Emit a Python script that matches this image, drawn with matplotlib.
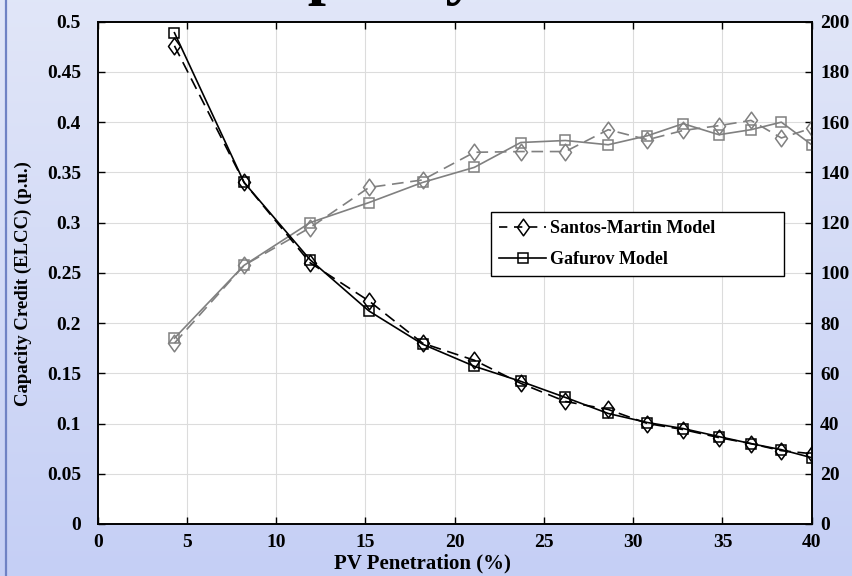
import numpy as np
import matplotlib
matplotlib.use("Agg")
import matplotlib.pyplot as plt
from matplotlib.path import Path
from matplotlib.lines import Line2D

# ---------------- data ----------------
pv_penetration = [4.3, 8.2, 11.9, 15.2, 18.2, 21.1, 23.7, 26.2, 28.6, 30.8, 32.8, 34.8, 36.6, 38.3, 40.0]

# capacity credit (left axis, p.u.)
cc_santos = [0.476, 0.340, 0.260, 0.222, 0.180, 0.163, 0.140, 0.122, 0.114, 0.100, 0.094, 0.086, 0.080, 0.073, 0.070]
cc_gafurov = [0.489, 0.340, 0.263, 0.212, 0.179, 0.157, 0.142, 0.126, 0.110, 0.101, 0.095, 0.087, 0.080, 0.074, 0.066]

# right-axis series (gray)
r_santos = [72, 103, 118, 134, 137, 148, 148.3, 148.3, 157, 153, 156.7, 158.6, 160.7, 153.7, 157.6]
r_gafurov = [74, 103, 120, 128, 136, 142, 151.9, 152.7, 151, 154.6, 159.4, 155, 157, 160, 151]

x_ticks = [0, 5, 10, 15, 20, 25, 30, 35, 40]
y_left_ticks = [0, 0.05, 0.1, 0.15, 0.2, 0.25, 0.3, 0.35, 0.4, 0.45, 0.5]
y_left_labels = ["0", "0.05", "0.1", "0.15", "0.2", "0.25", "0.3", "0.35", "0.4", "0.45", "0.5"]
y_right_ticks = [0, 20, 40, 60, 80, 100, 120, 140, 160, 180, 200]

legend_labels = ["Santos-Martin Model", "Gafurov Model"]
x_label = "PV Penetration (%)"
y_label = "Capacity Credit (ELCC) (p.u.)"
title_text = "Capacity Credit"

# ---------------- style ----------------
W, H = 852, 576
DPI = 100
serif = ["Liberation Serif", "DejaVu Serif"]
plt.rcParams["font.family"] = serif
plt.rcParams["font.weight"] = "bold"

fig = plt.figure(figsize=(W / DPI, H / DPI), dpi=DPI)

# gradient background
bg = fig.add_axes([0, 0, 1, 1], zorder=-10)
top_c = np.array([0.882, 0.902, 0.973])
bot_c = np.array([0.773, 0.812, 0.961])
t = np.linspace(0, 1, 256)[:, None]
grad = top_c[None, :] * (1 - t) + bot_c[None, :] * t
grad = np.repeat(grad[:, None, :], 2, axis=1)
bg.imshow(grad, aspect="auto", extent=[0, 1, 0, 1], origin="upper")
bg.set_xlim(0, 1)
bg.set_ylim(0, 1)
bg.axis("off")
bg.add_line(Line2D([5.5 / W, 5.5 / W], [0, 1], color="#6f82c4", lw=1.6, transform=bg.transAxes))

# partially cut-off title (only descenders visible, as in the reference)
fig.text(228 / W, 1 + 7.5 / H, title_text, fontsize=47, fontweight="bold",
         ha="left", va="baseline", color="black", family=serif)

x0, x1 = 97.7, 811.7
y_top, y_bot = 21.7, 524.0
ax = fig.add_axes([x0 / W, 1 - y_bot / H, (x1 - x0) / W, (y_bot - y_top) / H])
ax.set_facecolor("white")
ax2 = ax.twinx()

diamond = Path([(0, 1), (0.72, 0), (0, -1), (-0.72, 0), (0, 1)],
               [Path.MOVETO, Path.LINETO, Path.LINETO, Path.LINETO, Path.CLOSEPOLY])

gray = "#808080"
dash = (7, 4)
# gray series on right axis
ax2.plot(pv_penetration, r_santos, color=gray, lw=1.2, ls=(0, dash), marker=diamond,
         markersize=12, fillstyle="none", markeredgewidth=1.1, zorder=3)
ax2.plot(pv_penetration, r_gafurov, color=gray, lw=1.2, ls="-", marker="s",
         markersize=7.5, fillstyle="none", markeredgewidth=1.1, zorder=3)
# black series: left-axis values, drawn through ax (left scale)
ax.plot(pv_penetration, cc_santos, color="black", lw=1.2, ls=(0, dash),
        marker=diamond, markersize=12, fillstyle="none", markeredgewidth=1.1, zorder=4)
ax.plot(pv_penetration, cc_gafurov, color="black", lw=1.2, ls="-",
        marker="s", markersize=7.5, fillstyle="none", markeredgewidth=1.1, zorder=4)
ax.set_zorder(ax2.get_zorder() + 1)
ax.patch.set_visible(False)
ax2.patch.set_visible(True)
ax2.patch.set_facecolor("white")

ax.set_xlim(0, 40)
ax.set_ylim(0, 0.5)
ax2.set_ylim(0, 200)
ax.set_xticks(x_ticks)
ax.set_xticklabels([str(v) for v in x_ticks])
ax.set_yticks(y_left_ticks)
ax.set_yticklabels(y_left_labels)
ax2.set_yticks(y_right_ticks)
ax2.set_yticklabels([str(v) for v in y_right_ticks])

# gridlines drawn on ax2 (beneath everything)
for xv in x_ticks[1:-1]:
    ax2.axvline(xv, color="#dcdcdc", lw=0.8, zorder=0)
for yv in y_right_ticks[1:-1]:
    ax2.axhline(yv, color="#dcdcdc", lw=0.8, zorder=0)

for a in (ax, ax2):
    for s in a.spines.values():
        s.set_linewidth(1.2)
        s.set_color("black")

ax.tick_params(axis="x", direction="in", length=5, width=1, top=True, labelsize=14, pad=7)
ax.tick_params(axis="y", direction="in", length=5, width=1, right=False, labelsize=14, pad=12)
ax2.tick_params(axis="y", direction="in", length=5, width=1, labelsize=14, pad=6)
for lab in ax.get_xticklabels() + ax.get_yticklabels() + ax2.get_yticklabels():
    lab.set_fontweight("bold")

fig.text(422 / W, 1 - 563 / H, x_label, fontsize=15, fontweight="bold", ha="center", va="center")
fig.text(23 / W, 1 - 284 / H, y_label, fontsize=13.5, fontweight="bold", ha="center",
         va="center", rotation=90)

handles = [
    Line2D([], [], color="black", lw=1.2, ls=(0, (5, 4)), marker=diamond, markersize=12,
           fillstyle="none", markeredgewidth=1.1),
    Line2D([], [], color="black", lw=1.2, ls="-", marker="s", markersize=7.5,
           fillstyle="none", markeredgewidth=1.1),
]
ax_w = x1 - x0
ax_h = y_bot - y_top
lx0 = (491 - x0) / ax_w
lx1 = (784 - x0) / ax_w
ly0 = (y_bot - 276) / ax_h
ly1 = (y_bot - 211.7) / ax_h
leg = ax.legend(handles, legend_labels, loc="lower left",
                bbox_to_anchor=(lx0, ly0, lx1 - lx0, ly1 - ly0), mode="expand",
                borderaxespad=0, frameon=True, fancybox=False, framealpha=1,
                edgecolor="black", prop={"family": serif, "weight": "bold", "size": 13},
                handlelength=2.6, handletextpad=0.2, labelspacing=0.75, borderpad=0.45)
leg.get_frame().set_linewidth(1.0)
leg.set_zorder(10)

fig.savefig("out.png", dpi=DPI)
